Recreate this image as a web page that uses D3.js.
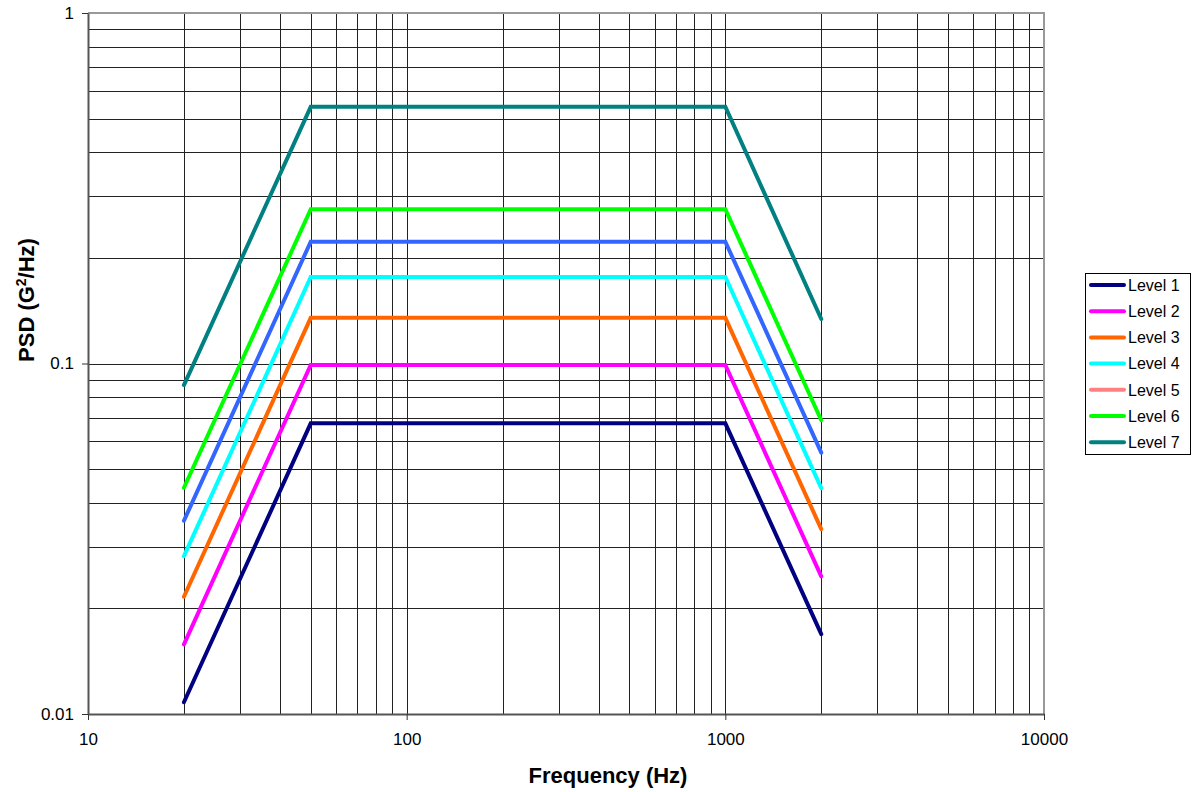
<!DOCTYPE html>
<html lang="en">
<head>
<meta charset="UTF-8">
<title>PSD Levels</title>
<style>
  body { margin: 0; background: #fff; }
  svg { font-family: "Liberation Sans", Arial, sans-serif; }
</style>
</head>
<body>
<div id="chart"></div>
<script src="https://d3js.org/d3.v7.min.js"></script>
<script>
// breakpoints (Hz)
const freqs = [20, 50, 1000, 2000];

// PSD values (G^2/Hz) at each breakpoint
const level1 = [0.0108, 0.0675, 0.0675, 0.0169];
const level2 = [0.0158, 0.099, 0.099, 0.0247];
const level3 = [0.0216, 0.135, 0.135, 0.0337];
const level4 = [0.0282, 0.1765, 0.1765, 0.0441];
const level5 = [0.0356, 0.2226, 0.2226, 0.0557];
const level6 = [0.0442, 0.2754, 0.2754, 0.0689];
const level7 = [0.0868, 0.540, 0.540, 0.134];

const seriesNames = ["Level 1", "Level 2", "Level 3", "Level 4", "Level 5", "Level 6", "Level 7"];
const seriesValues = [level1, level2, level3, level4, level5, level6, level7];
const lineColors = ["#000080", "#ff00ff", "#ff6600", "#00ffff", "#3366ff", "#00ff00", "#008080"];
// legend swatches (level 5 swatch differs from its plotted line in the original)
const legendColors = ["#000080", "#ff00ff", "#ff6600", "#00ffff", "#ff8080", "#00ff00", "#008080"];

const xTicks = [10, 100, 1000, 10000];
const yTicks = [0.01, 0.1, 1];

const W = 1196, H = 792;
const pLeft = 88, pRight = 1044, pTop = 13, pBottom = 714;

const svg = d3.select("#chart").append("svg")
    .attr("width", W)
    .attr("height", H);

const x = d3.scaleLog().domain([10, 10000]).range([pLeft, pRight]);
const y = d3.scaleLog().domain([0.01, 1]).range([pBottom, pTop]);

// minor grid values for each decade
function decadeValues(lo, hi) {
    const out = [];
    for (let d = lo; d < hi; d *= 10) {
        for (let k = 1; k <= 9; k++) out.push(d * k);
    }
    out.push(hi);
    return out;
}

const grid = svg.append("g").attr("shape-rendering", "crispEdges");

grid.selectAll("line.v")
    .data(decadeValues(10, 10000))
    .enter().append("line")
        .attr("class", "v")
        .attr("x1", d => Math.round(x(d)) + 0.5)
        .attr("x2", d => Math.round(x(d)) + 0.5)
        .attr("y1", pTop)
        .attr("y2", pBottom)
        .attr("stroke", "#222")
        .attr("stroke-width", 1);

grid.selectAll("line.h")
    .data(decadeValues(0.01, 1))
    .enter().append("line")
        .attr("class", "h")
        .attr("x1", pLeft)
        .attr("x2", pRight)
        .attr("y1", d => Math.round(y(d)) + 0.5)
        .attr("y2", d => Math.round(y(d)) + 0.5)
        .attr("stroke", "#222")
        .attr("stroke-width", 1);

// plot border (top / right lighter)
svg.append("path")
    .attr("d", `M${pLeft},${pTop}H${pRight}V${pBottom}`)
    .attr("fill", "none")
    .attr("stroke", "#999")
    .attr("stroke-width", 2);

// axes
const xAxis = svg.append("g")
    .attr("transform", `translate(0,${pBottom})`)
    .call(d3.axisBottom(x).tickValues(xTicks).tickFormat(d3.format("d")).tickSize(6).tickSizeOuter(0));
const yAxis = svg.append("g")
    .attr("transform", `translate(${pLeft},0)`)
    .call(d3.axisLeft(y).tickValues(yTicks).tickFormat(d => String(d)).tickSize(6).tickSizeOuter(0));

[xAxis, yAxis].forEach(a => {
    a.select(".domain").attr("stroke", "#555").attr("stroke-width", 2);
    a.selectAll(".tick line").attr("stroke", "#333");
    a.selectAll(".tick text")
        .attr("font-family", "Liberation Sans, Arial, sans-serif")
        .attr("font-size", 17)
        .attr("fill", "#000");
});
xAxis.selectAll(".tick text").attr("dy", "1.3em");
yAxis.selectAll(".tick text").attr("x", -14);

// series lines
const line = d3.line()
    .x((d, i) => x(freqs[i]))
    .y(d => y(d));

svg.selectAll("path.series")
    .data(seriesValues)
    .enter().append("path")
        .attr("class", "series")
        .attr("d", line)
        .attr("fill", "none")
        .attr("stroke", (d, i) => lineColors[i])
        .attr("stroke-width", 4)
        .attr("stroke-linecap", "round")
        .attr("stroke-linejoin", "miter");

// axis titles
svg.append("text")
    .attr("x", 608)
    .attr("y", 783)
    .attr("text-anchor", "middle")
    .attr("font-weight", "bold")
    .attr("font-size", 22)
    .text("Frequency (Hz)");

const yt = svg.append("text")
    .attr("transform", "translate(34,300) rotate(-90)")
    .attr("text-anchor", "middle")
    .attr("font-weight", "bold")
    .attr("font-size", 22);
yt.append("tspan").text("PSD (G");
yt.append("tspan").attr("font-size", 14).attr("dy", -8).text("2");
yt.append("tspan").attr("dy", 8).text("/Hz)");

// legend
const legend = svg.append("g");
legend.append("rect")
    .attr("x", 1085.5)
    .attr("y", 273.5)
    .attr("width", 105)
    .attr("height", 181)
    .attr("fill", "#fff")
    .attr("stroke", "#000")
    .attr("stroke-width", 1);

const item = legend.selectAll("g.item")
    .data(seriesNames)
    .enter().append("g")
        .attr("class", "item")
        .attr("transform", (d, i) => `translate(0,${285 + i * 26.2})`);
item.append("line")
    .attr("x1", 1091).attr("x2", 1124)
    .attr("stroke", (d, i) => legendColors[i])
    .attr("stroke-width", 4)
    .attr("stroke-linecap", "round");
item.append("text")
    .attr("x", 1128)
    .attr("dy", "0.36em")
    .attr("font-size", 16)
    .text(d => d);
</script>
</body>
</html>
